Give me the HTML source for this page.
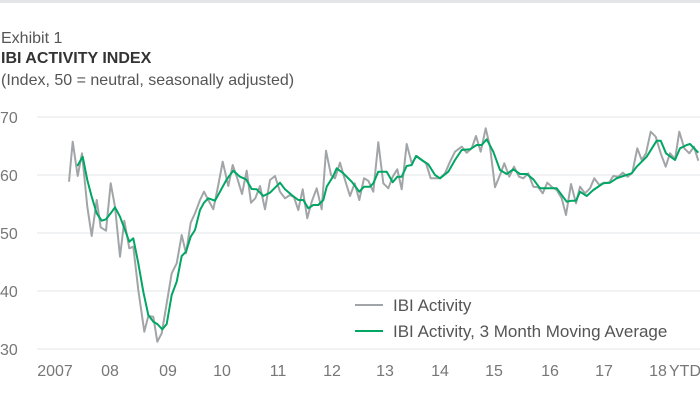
<!DOCTYPE html>
<html><head><meta charset="utf-8"><style>
body{margin:0;background:#fff;}
#w{position:relative;width:700px;height:420px;overflow:hidden;font-family:"Liberation Sans",sans-serif;}
.t{position:absolute;left:1px;font-size:16px;color:#555;white-space:nowrap}
</style></head><body><div id="w">
<div style="position:absolute;left:0;top:0;width:700px;height:3px;background:#e3e5e8"></div>
<div class="t" style="top:30px">Exhibit 1</div>
<div class="t" style="top:50px;font-weight:bold;color:#333">IBI ACTIVITY INDEX</div>
<div class="t" style="top:72px">(Index, 50 = neutral, seasonally adjusted)</div>
<svg id="s" width="700" height="420" style="position:absolute;left:0;top:0" font-family="Liberation Sans, sans-serif"></svg>
</div>
<script>
var s=document.getElementById('s'),h='';
[[70,117],[60,175],[50,233],[40,291],[30,349]].forEach(function(g){
h+='<line x1="37" x2="700" y1="'+g[1]+'" y2="'+g[1]+'" stroke="#e3e5e8" stroke-width="1"/>';
h+='<text x="0" y="'+(g[1]+6)+'" font-size="16" fill="#777">'+g[0]+'</text>';});
[['2007',55],['08',110],['09',168],['10',222],['11',278],['12',332],['13',385],['14',440],['15',494],['16',550],['17',604],['18',658]].forEach(function(l){
h+='<text x="'+l[1]+'" y="376" font-size="16" fill="#777" text-anchor="middle">'+l[0]+'</text>';});
h+='<text x="669" y="376" font-size="16" fill="#777">YTD</text>';
function z2(a){return a.filter(function(p){return p[0]<600}).map(function(p){return [p[0]/3,100+p[1]/3]})}
function z3(a){return a.filter(function(p){return p[0]<720}).map(function(p){return [200+p[0]/3,110+p[1]/3]})}
function z4(a){return a.map(function(p){return [440+p[0]/3,110+p[1]/3]})}
var g2=[[207,245],[218,125],[233,228],[246,160],[262,320],[275,408],[290,300],[302,382],[318,392],[332,250],[345,320],[360,470],[373,362],[388,445],[400,440],[415,570],[433,695],[445,648],[460,650],[472,725],[485,700],[500,610],[515,520],[530,490],[545,405],[558,460],[572,368],[585,340]];
var g3=[[0,270],[12,245],[25,270],[40,298],[55,225],[68,155],[85,228],[98,165],[112,205],[126,252],[140,182],[153,278],[166,265],[180,228],[195,298],[210,210],[225,198],[240,245],[255,265],[270,255],[282,262],[295,300],[308,238],[322,325],[335,275],[350,235],[365,298],[378,122],[393,195],[405,205],[420,158],[435,210],[450,258],[464,220],[478,270],[492,205],[505,212],[520,245],[535,97],[550,220],[565,235],[578,200],[592,178],[605,238],[620,102],[635,160],[650,138],[663,148],[678,160],[692,205],[708,205]];
var g4=[[0,205],[15,190],[30,155],[45,125],[65,110],[80,128],[95,115],[108,78],[122,125],[137,55],[150,110],[165,232],[180,195],[193,160],[208,200],[222,170],[237,200],[250,205],[265,190],[280,230],[295,232],[308,250],[322,218],[337,232],[350,240],[365,265],[378,315],[393,222],[408,280],[420,230],[435,250],[450,235],[463,205],[478,225],[492,218],[507,218],[520,198],[535,200],[548,188],[563,200],[577,188],[592,115],[605,150],[618,130],[632,65],[647,80],[662,130],[677,170],[690,130],[705,148],[718,65],[733,115],[748,130],[762,110],[775,152]];
var r2=[[232,198],[248,170],[262,240],[275,290],[290,340],[305,362],[318,358],[332,340],[345,322],[360,350],[375,390],[388,425],[400,415],[415,490],[430,575],[445,645],[460,665],[472,672],[487,688],[500,672],[515,585],[530,545],[545,468],[558,455],[572,410],[585,390]];
var r3=[[0,300],[12,278],[25,265],[45,272],[60,245],[80,208],[100,182],[120,200],[138,208],[155,237],[170,238],[190,258],[210,248],[240,218],[255,238],[275,255],[295,270],[310,270],[325,295],[340,285],[355,285],[370,270],[380,230],[400,198],[410,175],[430,190],[455,215],[478,245],[492,230],[510,230],[520,220],[535,185],[560,185],[578,217],[592,200],[605,200],[620,168],[635,165],[648,138],[665,150],[685,163],[705,195]];
var r4=[[0,205],[25,185],[45,150],[65,120],[90,118],[110,105],[125,105],[140,88],[160,125],[180,180],[200,192],[220,178],[240,192],[260,192],[280,208],[300,235],[320,235],[350,235],[380,275],[395,272],[408,272],[420,245],[440,258],[460,240],[490,220],[510,218],[530,205],[550,198],[575,190],[590,170],[620,140],[650,92],[662,92],[678,130],[705,150],[720,115],[740,105],[750,102],[775,128]];
function pl(a,c){return '<polyline fill="none" stroke="'+c+'" stroke-width="2" stroke-linejoin="round" points="'+a.map(function(p){return p[0].toFixed(1)+','+p[1].toFixed(1)}).join(' ')+'"/>';}
h+=pl(z2(g2).concat(z3(g3),z4(g4)),'#a2a5a8');
h+=pl(z2(r2).concat(z3(r3),z4(r4)),'#00a664');
h+='<line x1="355" x2="383" y1="305" y2="305" stroke="#a2a5a8" stroke-width="2"/><text x="393" y="311" font-size="17" fill="#555">IBI Activity</text>';
h+='<line x1="355" x2="383" y1="331" y2="331" stroke="#00a664" stroke-width="2"/><text x="393" y="337" font-size="17" fill="#555">IBI Activity, 3 Month Moving Average</text>';
s.innerHTML=h;
</script>
</body></html>
